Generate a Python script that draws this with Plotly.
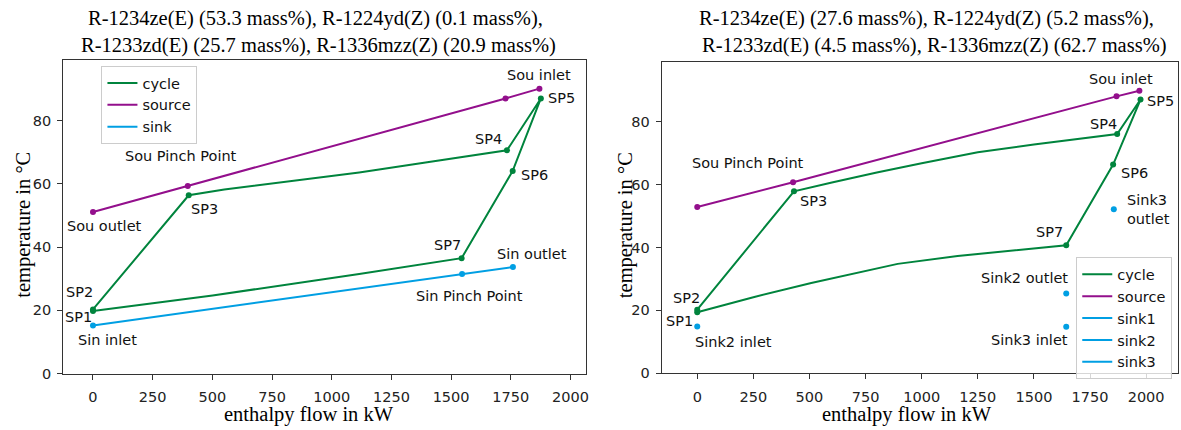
import plotly.graph_objects as go

# ---------------- data: left chart ----------------
L_sp_names = ["SP1", "SP2", "SP3", "SP4", "SP5", "SP6", "SP7"]
L_sp_x = [0, 0, 401, 1734, 1876, 1758, 1544]
L_sp_y = [19.8, 20.3, 56.4, 70.6, 87.0, 64.1, 36.5]
L_upper_x = [550, 800, 1115, 1400]          # curve between SP3 and SP4
L_upper_y = [58.2, 60.6, 63.6, 66.8]
L_lower_x = [1115, 501]                      # curve between SP7 and SP1
L_lower_y = [31.5, 24.7]

L_src_names = ["Sou outlet", "Sou Pinch Point", "", "Sou inlet"]
L_src_x = [0, 397, 1728, 1870]
L_src_y = [51.1, 59.3, 87.0, 90.1]

L_sink_names = ["Sin inlet", "Sin Pinch Point", "Sin outlet"]
L_sink_x = [0, 1546, 1759]
L_sink_y = [15.2, 31.5, 33.7]

# ---------------- data: right chart ----------------
R_sp_names = ["SP1", "SP2", "SP3", "SP4", "SP5", "SP6", "SP7"]
R_sp_x = [0, 0, 431, 1871, 1975, 1853, 1644]
R_sp_y = [19.4, 20.2, 57.9, 76.1, 87.1, 66.4, 40.7]
R_upper_x = [600, 800, 1000, 1250, 1500, 1700]
R_upper_y = [60.7, 63.9, 66.8, 70.3, 72.8, 74.7]
R_lower_x = [1400, 1160, 893, 750, 508, 250]
R_lower_y = [39.0, 37.3, 34.8, 32.6, 28.7, 24.2]

R_src_names = ["", "Sou Pinch Point", "", "Sou inlet"]
R_src_x = [0, 427, 1868, 1970]
R_src_y = [52.9, 60.8, 88.1, 89.9]

R_sink2_x = [0, 1644]
R_sink2_y = [14.9, 25.4]
R_sink3_x = [1644, 1856]
R_sink3_y = [14.8, 52.2]

titles = [
    ["R-1234ze(E) (53.3 mass%), R-1224yd(Z) (0.1 mass%),",
     "R-1233zd(E) (25.7 mass%), R-1336mzz(Z) (20.9 mass%)"],
    ["R-1234ze(E) (27.6 mass%), R-1224yd(Z) (5.2 mass%),",
     "R-1233zd(E) (4.5 mass%), R-1336mzz(Z) (62.7 mass%)"],
]
x_ticks = [0, 250, 500, 750, 1000, 1250, 1500, 1750, 2000]
y_ticks = [0, 20, 40, 60, 80]

# ---------------- style ----------------
C_CYC = "#00843d"
C_SRC = "#930f8c"
C_SNK = "#009fe3"
W, H = 1181, 430
SANS = "DejaVu Sans"
SERIF = "Liberation Serif"
FS = 14.5
LW = 2
MS = 6


def cycle_path(spx, spy, ux, uy, lx, ly):
    # SP2 -> SP3 -> upper curve -> SP4 -> SP5 -> SP6 -> SP7 -> lower curve -> SP1
    xs = [spx[1], spx[2]] + ux + [spx[3], spx[4], spx[5], spx[6]] + lx + [spx[0]]
    ys = [spy[1], spy[2]] + uy + [spy[3], spy[4], spy[5], spy[6]] + ly + [spy[0]]
    return xs, ys


fig = go.Figure()

# ----- left -----
cx, cy = cycle_path(L_sp_x, L_sp_y, L_upper_x, L_upper_y, L_lower_x, L_lower_y)
fig.add_trace(go.Scatter(x=cx, y=cy, mode="lines", line=dict(color=C_CYC, width=LW),
                         name="cycle", legend="legend", xaxis="x", yaxis="y"))
fig.add_trace(go.Scatter(x=L_src_x, y=L_src_y, mode="lines", line=dict(color=C_SRC, width=LW),
                         name="source", legend="legend", xaxis="x", yaxis="y"))
fig.add_trace(go.Scatter(x=L_sink_x, y=L_sink_y, mode="lines", line=dict(color=C_SNK, width=LW),
                         name="sink", legend="legend", xaxis="x", yaxis="y"))
fig.add_trace(go.Scatter(x=L_sp_x, y=L_sp_y, mode="markers", marker=dict(color=C_CYC, size=MS),
                         showlegend=False, xaxis="x", yaxis="y"))
fig.add_trace(go.Scatter(x=L_src_x, y=L_src_y, mode="markers", marker=dict(color=C_SRC, size=MS),
                         showlegend=False, xaxis="x", yaxis="y"))
fig.add_trace(go.Scatter(x=L_sink_x, y=L_sink_y, mode="markers", marker=dict(color=C_SNK, size=MS),
                         showlegend=False, xaxis="x", yaxis="y"))

# ----- right -----
cx, cy = cycle_path(R_sp_x, R_sp_y, R_upper_x, R_upper_y, R_lower_x, R_lower_y)
fig.add_trace(go.Scatter(x=cx, y=cy, mode="lines", line=dict(color=C_CYC, width=LW),
                         name="cycle", legend="legend2", xaxis="x2", yaxis="y2"))
fig.add_trace(go.Scatter(x=R_src_x, y=R_src_y, mode="lines", line=dict(color=C_SRC, width=LW),
                         name="source", legend="legend2", xaxis="x2", yaxis="y2"))
for nm in ["sink1", "sink2", "sink3"]:
    fig.add_trace(go.Scatter(x=[None], y=[None], mode="lines", line=dict(color=C_SNK, width=LW),
                             name=nm, legend="legend2", xaxis="x2", yaxis="y2"))
fig.add_trace(go.Scatter(x=R_sp_x, y=R_sp_y, mode="markers", marker=dict(color=C_CYC, size=MS),
                         showlegend=False, xaxis="x2", yaxis="y2"))
fig.add_trace(go.Scatter(x=R_src_x, y=R_src_y, mode="markers", marker=dict(color=C_SRC, size=MS),
                         showlegend=False, xaxis="x2", yaxis="y2"))
fig.add_trace(go.Scatter(x=R_sink2_x + R_sink3_x, y=R_sink2_y + R_sink3_y, mode="markers",
                         marker=dict(color=C_SNK, size=MS), showlegend=False, xaxis="x2", yaxis="y2"))

# ----- point labels (pixel offsets from their points) -----
ann = []


def lab(text, x, y, dx, dy, ax="x", ay="y", xanchor="center", align="center"):
    ann.append(dict(text=text, x=x, y=y, xref=ax, yref=ay, showarrow=False,
                    xshift=dx, yshift=-dy, xanchor=xanchor, yanchor="middle", align=align,
                    font=dict(family=SANS, size=FS, color="#111")))


Loff = {"SP1": (-14, 6), "SP2": (-13, -17), "SP3": (16, 14), "SP4": (-18, -11),
        "SP5": (21, 0), "SP6": (22, 4), "SP7": (-14, -13)}
for n, x, y in zip(L_sp_names, L_sp_x, L_sp_y):
    lab(n, x, y, *Loff[n])
Lsrc_off = [(12, 14), (-7, -30), None, (0, -14)]
for n, x, y, o in zip(L_src_names, L_src_x, L_src_y, Lsrc_off):
    if n and o:
        lab(n, x, y, *o)
Lsnk_off = [(15, 14), (7, 22), (19, -13)]
for n, x, y, o in zip(L_sink_names, L_sink_x, L_sink_y, Lsnk_off):
    lab(n, x, y, *o)

Roff = {"SP1": (-18, 9), "SP2": (-11, -12), "SP3": (20, 10), "SP4": (-14, -10),
        "SP5": (20, 1), "SP6": (21, 8), "SP7": (-17, -13)}
for n, x, y in zip(R_sp_names, R_sp_x, R_sp_y):
    lab(n, x, y, *Roff[n], ax="x2", ay="y2")
Rsrc_off = [None, (-45, -19), None, (-18, -12)]
for n, x, y, o in zip(R_src_names, R_src_x, R_src_y, Rsrc_off):
    if n and o:
        lab(n, x, y, *o, ax="x2", ay="y2")
lab("Sink2 inlet", R_sink2_x[0], R_sink2_y[0], 36, 16, "x2", "y2")
lab("Sink2 outlet", R_sink2_x[1], R_sink2_y[1], 4, -15, "x2", "y2", xanchor="right")
lab("Sink3 inlet", R_sink3_x[0], R_sink3_y[0], 4, 13, "x2", "y2", xanchor="right")
lab("Sink3<br>outlet", R_sink3_x[1], R_sink3_y[1], 11, 0, "x2", "y2", xanchor="left", align="left")

# ----- titles and axis labels -----
for lines, centers in zip(titles, [(316, 319), (929, 937)]):
    for line, xc, yc in zip(lines, centers, (19, 46)):
        ann.append(dict(text=line, x=xc / W, y=1 - yc / H, xref="paper", yref="paper", showarrow=False,
                        xanchor="center", yanchor="middle",
                        font=dict(family=SERIF, size=20.5, color="#000")))
for xc in [310, 909]:
    ann.append(dict(text="enthalpy flow in kW", x=xc / W, y=0, xref="paper", yref="paper",
                    showarrow=False, xanchor="center", yanchor="bottom", yshift=-5, borderpad=0,
                    font=dict(family=SERIF, size=20.5, color="#000")))
for xc in [24, 627]:
    ann.append(dict(text="temperature in °C", x=xc / W, y=1 - 229 / H, xref="paper", yref="paper",
                    showarrow=False, xanchor="center", yanchor="middle", textangle=-90,
                    font=dict(family=SERIF, size=20.5, color="#000")))

axis_common = dict(showgrid=False, zeroline=False, showline=True, mirror=True, linecolor="#333",
                   linewidth=1, ticks="outside", ticklen=5, tickcolor="#333",
                   tickfont=dict(family=SANS, size=FS, color="#222"))

leg_common = dict(xanchor="left", yanchor="top", bgcolor="rgba(255,255,255,0.8)",
                  bordercolor="#cccccc", borderwidth=1, font=dict(family=SANS, size=FS, color="#111"),
                  tracegroupgap=0)

fig.update_layout(
    width=W, height=H, margin=dict(l=0, r=0, t=0, b=0),
    paper_bgcolor="white", plot_bgcolor="white", showlegend=True,
    xaxis=dict(domain=[63.3 / W, 587 / W], range=[-125, 2063], tickvals=x_ticks, anchor="y",
               ticklabelstandoff=5, **axis_common),
    yaxis=dict(domain=[1 - 380.7 / H, 1 - 61 / H], range=[0, 99.2], tickvals=y_ticks, anchor="x",
               ticklabelstandoff=3, **axis_common),
    xaxis2=dict(domain=[663.3 / W, 1.0], range=[-158.7, 2142], tickvals=x_ticks, anchor="y2",
                ticklabelstandoff=5, **axis_common),
    yaxis2=dict(domain=[1 - 380.3 / H, 1 - 63.3 / H], range=[0, 99], tickvals=y_ticks, anchor="x2",
                ticklabelstandoff=3, **axis_common),
    legend=dict(x=101.7 / W, y=1 - 67.3 / H, **leg_common),
    legend2=dict(x=1079 / W, y=1 - 262.3 / H, **leg_common),
    annotations=ann,
)

fig.write_html("out.html")
